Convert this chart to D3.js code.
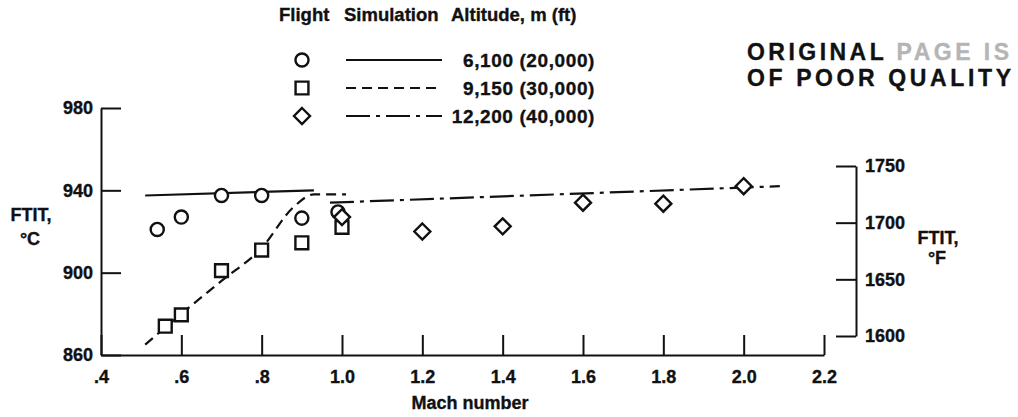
<!DOCTYPE html>
<html>
<head>
<meta charset="utf-8">
<style>
  body { margin: 0; background: #fff; }
  svg text { font-family: "Liberation Sans", Arial, Helvetica, sans-serif; font-weight: bold; fill: #111;
             stroke: #111; stroke-width: 0.35; }
</style>
</head>
<body>
<svg width="1018" height="417"></svg>
<script src="https://d3js.org/d3.v7.min.js"></script>
<script>

// data
const machTicks = [0.4, 0.6, 0.8, 1.0, 1.2, 1.4, 1.6, 1.8, 2.0, 2.2];
const tempCTicks = [860, 900, 940, 980];
const tempFTicks = [1600, 1650, 1700, 1750];

// flight points: [Mach, FTIT degC]
const flight6100 = [[0.54, 921], [0.60, 927], [0.70, 937.5], [0.80, 937.5], [0.90, 926.5], [0.99, 929.5]];
const flight9150 = [[0.56, 874], [0.60, 879.5], [0.70, 901], [0.80, 911], [0.90, 914.5], [1.00, 922]];
const flight12200 = [[1.00, 927], [1.20, 920], [1.40, 922.5], [1.60, 934], [1.80, 933.5], [2.00, 942]];

// simulation curves
const sim6100 = [[0.51, 937.5], [0.93, 940]];
const sim9150 = [[0.51, 865], [0.60, 880], [0.70, 896], [0.80, 912], [0.88, 932], [0.93, 938], [1.01, 938]];
const sim12200 = [[0.97, 934], [2.09, 942]];

const legendLabels = ["6,100 (20,000)", "9,150 (30,000)", "12,200 (40,000)"];
const legendHeads = ["Flight", "Simulation", "Altitude, m (ft)"];

const svg = d3.select("svg");

const x = d3.scaleLinear().domain([0.4, 2.2]).range([101, 824]);
const y = d3.scaleLinear().domain([860, 980]).range([355, 108]);
const yF = d3.scaleLinear().domain([1600, 1750]).range([336, 166]);

const fmtMach = d => d3.format(".1f")(d).replace(/^0/, "");

// axes
const gx = svg.append("g").attr("transform", "translate(0,355)")
  .call(d3.axisBottom(x).tickValues(machTicks).tickFormat(fmtMach)
    .tickSizeInner(-20).tickSizeOuter(0).tickPadding(15));
const gy = svg.append("g").attr("transform", "translate(101,0)")
  .call(d3.axisLeft(y).tickValues(tempCTicks).tickFormat(d3.format("d"))
    .tickSizeInner(-20).tickSizeOuter(0).tickPadding(8));
const gf = svg.append("g").attr("transform", "translate(856,0)")
  .call(d3.axisRight(yF).tickValues(tempFTicks).tickFormat(d3.format("d"))
    .tickSizeInner(-20).tickSizeOuter(0).tickPadding(9));

[gx, gy, gf].forEach(g => {
  g.select(".domain").attr("stroke", "#111").attr("stroke-width", 2);
  g.selectAll(".tick line").attr("stroke", "#111").attr("stroke-width", 2);
  g.selectAll(".tick text").attr("font-size", 18).attr("fill", "#111")
    .attr("font-family", null);
});

// axis titles
svg.append("text").attr("x", 470).attr("y", 409).attr("text-anchor", "middle")
  .attr("font-size", 18).text("Mach number");
svg.append("text").attr("x", 31).attr("y", 221).attr("text-anchor", "middle")
  .attr("font-size", 18).text("FTIT,");
svg.append("text").attr("x", 30).attr("y", 245).attr("text-anchor", "middle")
  .attr("font-size", 18).text("°C");
svg.append("text").attr("x", 938).attr("y", 244).attr("text-anchor", "middle")
  .attr("font-size", 18).text("FTIT,");
svg.append("text").attr("x", 937).attr("y", 264).attr("text-anchor", "middle")
  .attr("font-size", 18).text("°F");

// simulation lines
const line = d3.line().x(d => x(d[0])).y(d => y(d[1])).curve(d3.curveMonotoneX);
const dashes = [null, "10,6", "24,6,4,6"];
[sim6100, sim9150, sim12200].forEach((s, i) => {
  svg.append("path").datum(s).attr("d", line)
    .attr("fill", "none").attr("stroke", "#111").attr("stroke-width", 2.2)
    .attr("stroke-dasharray", dashes[i]);
});

// markers
const sym = [d3.symbolCircle, d3.symbolSquare];
const symSize = [135, 165];
function marker(sel, i) {
  if (i === 2) {
    // diamond as wide as it is tall, like the figure
    sel.append("path").attr("d", "M0,-8L8,0L0,8L-8,0Z");
  } else {
    sel.append("path").attr("d", d3.symbol().type(sym[i]).size(symSize[i])());
  }
  sel.selectAll("path").attr("fill", "#fff").attr("stroke", "#111").attr("stroke-width", 2.4);
}
[flight6100, flight9150, flight12200].forEach((pts, i) => {
  svg.append("g").selectAll("g").data(pts).join("g")
    .attr("transform", d => `translate(${x(d[0])},${y(d[1])})`)
    .each(function() { marker(d3.select(this), i); });
});

// legend
const headX = [279, 344, 451];
legendHeads.forEach((t, i) => {
  svg.append("text").attr("x", headX[i]).attr("y", 21).attr("font-size", 18.5).text(t);
});
const rowY = [60, 88, 116];
legendLabels.forEach((t, i) => {
  const g = svg.append("g").attr("transform", `translate(302,${rowY[i]})`);
  marker(g, i);
  svg.append("line").attr("x1", 346).attr("x2", 442).attr("y1", rowY[i]).attr("y2", rowY[i])
    .attr("stroke", "#111").attr("stroke-width", 2).attr("stroke-dasharray", dashes[i]);
  svg.append("text").attr("x", 595).attr("y", rowY[i] + 7).attr("text-anchor", "end")
    .attr("font-size", 19).attr("letter-spacing", 0.6).text(t);
});

// stamp
const st1 = svg.append("text").attr("x", 747).attr("y", 60).attr("font-size", 23)
  .attr("textLength", 262).attr("lengthAdjust", "spacing");
st1.append("tspan").text("ORIGINAL ");
st1.append("tspan").attr("fill", "#b5b5b5").attr("stroke", "#b5b5b5").text("PAGE IS");
svg.append("text").attr("x", 747).attr("y", 86).attr("font-size", 23)
  .attr("textLength", 264).attr("lengthAdjust", "spacing").text("OF POOR QUALITY");

</script>
</body>
</html>
